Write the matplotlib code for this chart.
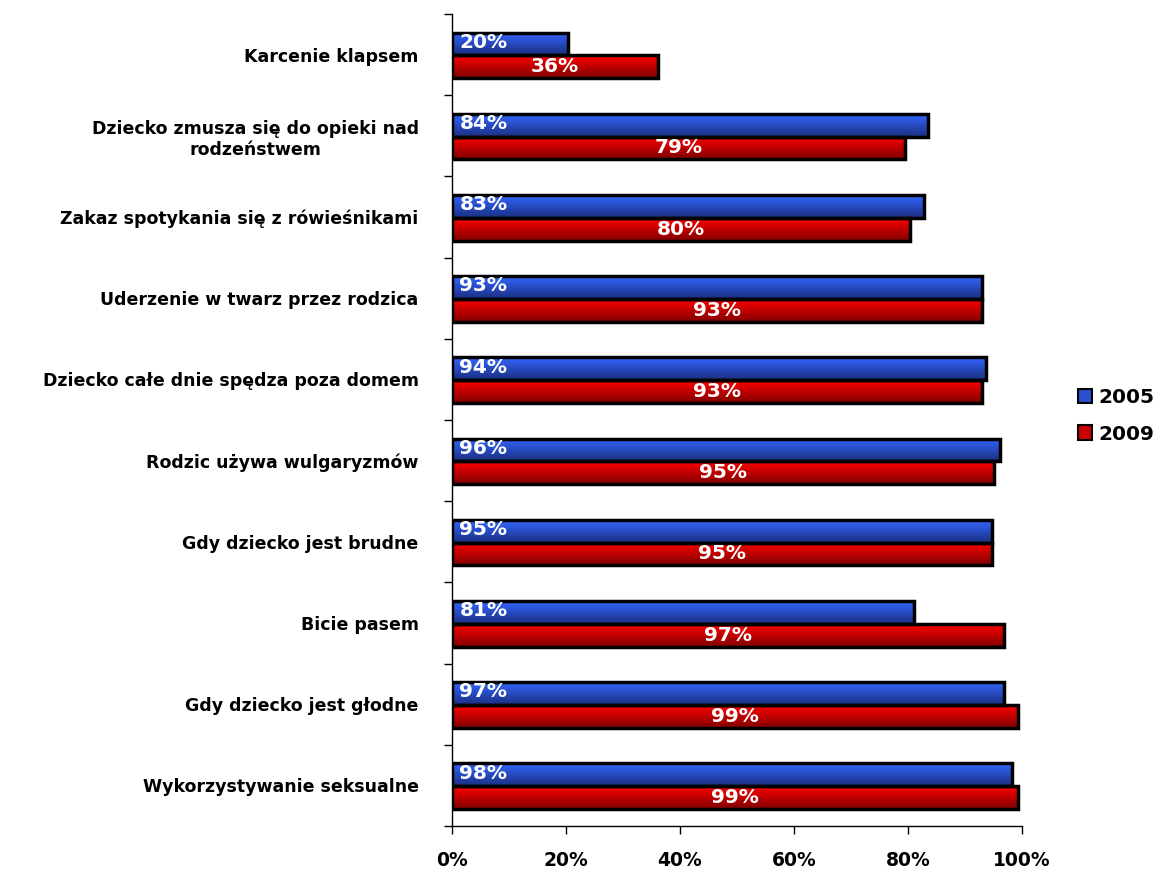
import numpy as np
import matplotlib.pyplot as plt
from matplotlib.patches import Patch, Rectangle
from matplotlib.colors import to_rgb

plt.rcParams['font.family'] = ['DejaVu Sans']
plt.rcParams['font.weight'] = 'bold'

# dane
categories = ['Karcenie klapsem',
              'Dziecko zmusza się do opieki nad\nrodzeństwem',
              'Zakaz spotykania się z rówieśnikami',
              'Uderzenie w twarz przez rodzica',
              'Dziecko całe dnie spędza poza domem',
              'Rodzic używa wulgaryzmów',
              'Gdy dziecko jest brudne',
              'Bicie pasem',
              'Gdy dziecko jest głodne',
              'Wykorzystywanie seksualne']
v2005 = [20.3, 83.5, 82.8, 93.0, 93.7, 96.1, 94.7, 81.0, 96.8, 98.2]
v2009 = [36.1, 79.4, 80.4, 93.0, 93.0, 95.1, 94.7, 96.8, 99.3, 99.3]
xticks = [0, 20, 40, 60, 80, 100]

blue_top, blue_bot = '#3366ff', '#1a2f80'
red_top, red_bot = '#ff0000', '#800000'


def gradient(c1, c2, n=64):
    a, b = np.array(to_rgb(c1)), np.array(to_rgb(c2))
    t = np.linspace(0, 1, n)[:, None]
    return (a * (1 - t) + b * t)[:, None, :]


fig = plt.figure(figsize=(11.58, 8.72), dpi=100)
ax = fig.add_axes([0.3903, 0.0528, 0.4923, 0.9312])

h = 0.28
g_blue = gradient(blue_top, blue_bot)
g_red = gradient(red_top, red_bot)
for k in range(len(categories)):
    yb = k - 0.13
    yr = k + 0.15
    for val, yc, g in ((v2005[k], yb, g_blue), (v2009[k], yr, g_red)):
        ax.imshow(g, extent=(0, val, yc + h / 2, yc - h / 2), aspect='auto',
                  interpolation='bilinear', zorder=2)
        ax.add_patch(Rectangle((0, yc - h / 2), val, h, fill=False,
                               edgecolor='black', lw=2.5, zorder=3))
    ax.text(1.3, yb - 0.02, f'{round(v2005[k])}%', color='white', fontsize=14.5,
            fontweight='bold', ha='left', va='center', zorder=4)
    ax.text(v2009[k] / 2, yr, f'{round(v2009[k])}%', color='white', fontsize=14.5,
            fontweight='bold', ha='center', va='center', zorder=4)

ax.set_xlim(0, 100)
ax.set_ylim(len(categories) - 0.5, -0.5)

ax.set_xticks(xticks)
ax.set_xticklabels([f'{t}%' for t in xticks], fontsize=13.5, fontweight='bold')
ax.tick_params(axis='x', length=6, width=1, pad=12)

ax.set_yticks(np.arange(len(categories)))
ax.set_yticklabels(categories, fontsize=12.5, fontweight='bold', multialignment='center')
ax.tick_params(axis='y', length=0, pad=24)
ax.set_yticks(np.arange(len(categories) + 1) - 0.5, minor=True)
ax.tick_params(axis='y', which='minor', length=6, width=1)

for s in ('top', 'right'):
    ax.spines[s].set_visible(False)
for s in ('left', 'bottom'):
    ax.spines[s].set_linewidth(1)

handles = [Patch(facecolor='#2a50d0', edgecolor='black', lw=1.5, label='2005'),
           Patch(facecolor='#cc0000', edgecolor='black', lw=1.5, label='2009')]
fig.legend(handles=handles, loc='center left', bbox_to_anchor=(0.931, 0.523),
           frameon=False, prop={'size': 14.5, 'weight': 'bold'},
           handlelength=0.7, handleheight=0.7, handletextpad=0.3, labelspacing=0.85,
           borderaxespad=0, borderpad=0)

fig.savefig('out.png', dpi=100)
